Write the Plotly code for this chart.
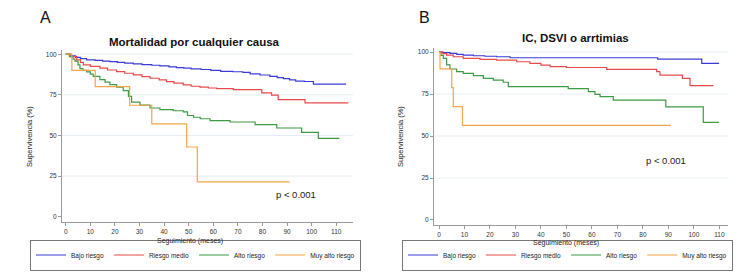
import plotly.graph_objects as go

# ---------------- DATA ----------------
groups = ["Bajo riesgo", "Riesgo medio", "Alto riesgo", "Muy alto riesgo"]
colors = ["#3a3ad8", "#e8494b", "#3f9a45", "#f4a548"]

# Panel A: Mortalidad por cualquier causa
a_bajo_t = [0, 2, 4, 6, 8.5, 12, 15, 18, 21, 24, 27.5, 31, 35, 38.3, 42, 45, 48, 51, 55, 59, 63, 68, 72, 75, 79, 83, 86, 88.5, 91, 93.5, 97, 100.7, 114]
a_bajo_s = [100, 99, 98, 97.3, 96.5, 96.2, 95.8, 95.5, 95, 94.5, 94, 93.6, 93.2, 92.8, 92.2, 91.8, 91.4, 91, 90.6, 90, 89.5, 89.2, 88.8, 87.9, 87.2, 86.4, 85.6, 85, 84.2, 83.4, 83.2, 81.6, 81.6]
a_medio_t = [0, 2, 4.5, 6, 7.2, 10, 13.9, 17, 20.7, 24, 27.5, 31, 34.3, 38, 41, 44, 47.8, 51, 54.6, 58, 61.4, 68.1, 79.7, 83.7, 86.4, 97.3, 114.9]
a_medio_s = [100, 98.5, 96.5, 95, 93.4, 92.5, 91.4, 90.3, 89.3, 88.3, 87.3, 86.2, 85.2, 84.2, 83.1, 82.2, 81.1, 80.3, 79.7, 79.2, 78.8, 78.2, 76.2, 74.8, 72, 70, 70]
a_alto_t = [0, 1.5, 3, 3.8, 5, 5.8, 7, 8.5, 10, 11.2, 13.9, 16, 18, 20.7, 23.4, 25.5, 26.8, 30.2, 34.3, 38.3, 43.7, 47.8, 49.5, 52, 54.7, 58.7, 66.8, 77, 85.8, 95.9, 102.7, 111.2]
a_alto_s = [100, 98.5, 97, 95.7, 93.5, 91.1, 90, 89.1, 87.8, 86.4, 84.4, 82.8, 81.3, 79.7, 77.6, 74.1, 70.5, 68.7, 66.9, 65.9, 65.2, 64.5, 62.3, 61.2, 60.3, 59.1, 58.3, 56.7, 54.6, 51.9, 48.2, 48.2]
a_muy_t = [0, 2.5, 12, 26, 35, 49.2, 53.5, 91]
a_muy_s = [100, 90, 80, 68.6, 57.1, 42.9, 21.4, 21.4]

# Panel B: IC, DSVI o arritmias
b_bajo_t = [0, 1.5, 4.3, 7, 9.5, 13.5, 18, 22.6, 27.9, 85.8, 103.1, 109.9]
b_bajo_s = [100, 99.6, 99.2, 98.6, 98.2, 97.8, 97.5, 97.2, 96.6, 95.8, 93.3, 93.3]
b_medio_t = [0, 1.5, 3, 5.6, 9.5, 16.1, 22.6, 30.5, 35.7, 40, 43.6, 50, 65.8, 85.4, 86.7, 95.5, 98.5, 107.7]
b_medio_s = [100, 99, 98.2, 97.2, 96.2, 95.6, 95.2, 94.2, 93.2, 92.2, 91.3, 90.8, 89.7, 88.3, 86.3, 84.3, 80, 80]
b_alto_t = [0, 0.8, 1.7, 3, 4.3, 6.9, 9.5, 13.5, 17.4, 21.3, 25.2, 27.2, 50.7, 58.6, 61.2, 63.2, 68.4, 89, 103.7, 109.9]
b_alto_s = [100, 98, 96.2, 92.3, 89.9, 88.3, 87.3, 85.9, 84.3, 83.3, 82, 79.4, 78.2, 76.4, 74.8, 73.4, 71.4, 67.4, 58.1, 58.1]
b_muy_t = [0, 0.4, 5.0, 5.6, 9.2, 91]
b_muy_s = [100, 90, 78.8, 67.5, 56.3, 56.3]

x_ticks = [0, 10, 20, 30, 40, 50, 60, 70, 80, 90, 100, 110]
y_ticks = [0, 25, 50, 75, 100]

panel_a = [(a_bajo_t, a_bajo_s), (a_medio_t, a_medio_s), (a_alto_t, a_alto_s), (a_muy_t, a_muy_s)]
panel_b = [(b_bajo_t, b_bajo_s), (b_medio_t, b_medio_s), (b_alto_t, b_alto_s), (b_muy_t, b_muy_s)]

W, H = 750, 275
FONT = "Liberation Sans, Arial, sans-serif"

def px(x):
    return x / W

def py(y):
    return 1 - y / H

fig = go.Figure()

for (t, s), name, col in zip(panel_a, groups, colors):
    fig.add_trace(go.Scatter(x=t, y=s, mode="lines", line=dict(color=col, width=1.2, shape="hv"),
                             name=name, xaxis="x", yaxis="y", legend="legend"))
for (t, s), name, col in zip(panel_b, groups, colors):
    fig.add_trace(go.Scatter(x=t, y=s, mode="lines", line=dict(color=col, width=1.2, shape="hv"),
                             name=name, xaxis="x2", yaxis="y2", legend="legend2"))

axis_common = dict(showline=True, linecolor="#9a9a9a", linewidth=1, ticks="outside", ticklen=3,
                   tickcolor="#9a9a9a", tickwidth=1, tickfont=dict(size=6.5, color="#333", family=FONT),
                   showgrid=False, zeroline=False, fixedrange=True)

legend_common = dict(orientation="h", xanchor="left", yanchor="middle",
                     bordercolor="#777", borderwidth=1, bgcolor="white",
                     font=dict(size=6.5, color="#222", family=FONT),
                     itemwidth=30, tracegroupgap=0)

fig.update_layout(
    width=W, height=H,
    margin=dict(l=0, r=0, t=0, b=0, autoexpand=False),
    paper_bgcolor="white", plot_bgcolor="white",
    font=dict(family=FONT, color="#222"),
    xaxis=dict(domain=[px(62), px(353)], range=[-1.5, 116.8], anchor="y", tickvals=x_ticks, **axis_common),
    yaxis=dict(domain=[py(222), py(50)], range=[-3.26, 102.6], anchor="x", tickvals=y_ticks, **axis_common),
    xaxis2=dict(domain=[px(434), px(728)], range=[-1.96, 113.4], anchor="y2", tickvals=x_ticks, **axis_common),
    yaxis2=dict(domain=[py(225), py(48)], range=[-2.98, 102.4], anchor="x2", tickvals=y_ticks, **axis_common),
    legend=dict(x=px(30), y=py(255), **legend_common),
    legend2=dict(x=px(402), y=py(255), **legend_common),
    showlegend=True,
)

# light horizontal gridlines
for yv in y_ticks[1:]:
    fig.add_shape(type="line", xref="x domain", yref="y", x0=0, x1=1, y0=yv, y1=yv,
                  line=dict(color="#e6edf2", width=1), layer="below")
    fig.add_shape(type="line", xref="x2 domain", yref="y2", x0=0, x1=1, y0=yv, y1=yv,
                  line=dict(color="#e6edf2", width=1), layer="below")

def ann(text, x, y, size, bold=False, angle=0, color="#222"):
    fig.add_annotation(text=f"<b>{text}</b>" if bold else text, x=px(x), y=py(y), xref="paper", yref="paper",
                       showarrow=False, xanchor="center", yanchor="middle", textangle=angle,
                       font=dict(size=size, color=color, family=FONT))

ann("A", 45, 18, 16, color="#111")
ann("B", 424, 18, 16, color="#111")
ann("Mortalidad por cualquier causa", 194, 42, 11.5, bold=True, color="#111")
ann("IC, DSVI o arrtimias", 575, 38, 11.5, bold=True, color="#111")
ann("Supervivencia (%)", 29, 137, 7.5, angle=-90)
ann("Supervivencia (%)", 400, 137, 7.5, angle=-90)
ann("Seguimiento (meses)", 190, 241, 7)
ann("Seguimiento (meses)", 566, 242.5, 7)
ann("p < 0.001", 296, 194, 9.5)
ann("p < 0.001", 666, 160, 9.5)

fig.write_html("out.html", config={"displayModeBar": False},
               post_script="document.body.style.margin='0px';document.body.style.overflow='hidden';")
